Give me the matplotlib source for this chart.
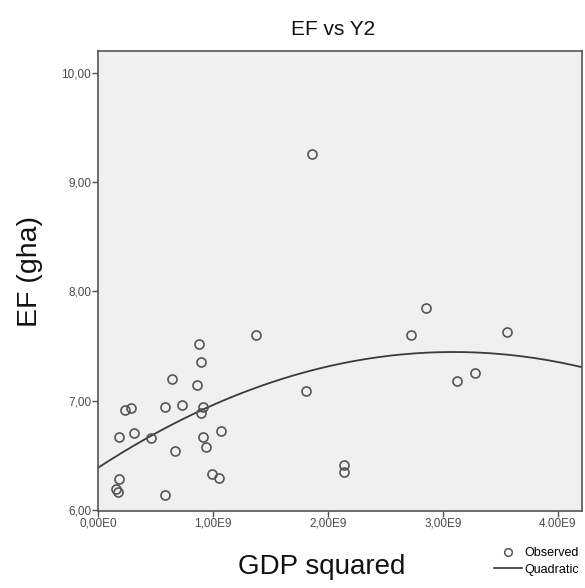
import numpy as np
import matplotlib
matplotlib.use('Agg')
import matplotlib.pyplot as plt
from matplotlib.lines import Line2D

plt.rcParams['font.family'] = ['Liberation Sans', 'DejaVu Sans']

# observed points: GDP squared (in units of 1E9) vs EF (gha)
gdp_sq = [1.86, 2.85, 2.72, 3.56, 3.28, 3.12, 1.81, 2.14, 2.14,
          1.37, 0.878, 0.898, 0.643, 0.858, 0.585, 0.730, 0.913, 0.900,
          0.235, 0.287, 0.185, 0.316, 0.464, 0.913, 1.067, 0.939, 0.667,
          0.988, 1.052, 0.185, 0.157, 0.171, 0.585]
ef_gha = [9.26, 7.85, 7.60, 7.63, 7.25, 7.18, 7.09, 6.41, 6.35,
          7.60, 7.52, 7.35, 7.20, 7.14, 6.94, 6.96, 6.94, 6.89,
          6.91, 6.93, 6.67, 6.70, 6.66, 6.67, 6.72, 6.58, 6.54,
          6.33, 6.29, 6.28, 6.19, 6.16, 6.14]

# quadratic fit coefficients (intercept, linear, squared), x in 1E9
quad_coef = [6.385, 0.686, -0.111]

xticks = [0, 1, 2, 3, 4]
xticklabels = ['0,00E0', '1,00E9', '2,00E9', '3,00E9', '4.00E9']
yticks = [6, 7, 8, 9, 10]
yticklabels = ['6,00', '7,00', '8,00', '9,00', '10,00']

fig = plt.figure(figsize=(5.85, 5.88), dpi=100)
ax = fig.add_axes([0.1675, 0.131, 0.8275, 0.7823])
ax.set_facecolor('#f0f0f0')

xs = np.linspace(0, 4.21, 200)
ys = quad_coef[0] + quad_coef[1] * xs + quad_coef[2] * xs ** 2
ax.plot(xs, ys, color='#3a3a3a', linewidth=1.3, zorder=2)
ax.plot(gdp_sq, ef_gha, linestyle='none', marker='o', markersize=6.5,
        markerfacecolor='none', markeredgecolor='#555555',
        markeredgewidth=1.2, zorder=3)

ax.set_xlim(0, 4.21)
ax.set_ylim(5.99, 10.2)
ax.set_xticks(xticks, xticklabels)
ax.set_yticks(yticks, yticklabels)
ax.tick_params(direction='out', length=4, width=1, color='#505050',
               labelsize=8.5, labelcolor='#4a4a4a', pad=1)
for s in ax.spines.values():
    s.set_color('#555555')
    s.set_linewidth(1.2)

fig.text(0.57, 0.949, 'EF vs Y2', ha='center', va='center', fontsize=15,
         color='#111111')
fig.text(0.052, 0.539, 'EF (gha)', ha='center', va='center', rotation=90,
         fontsize=20.5, color='#111111')
fig.text(0.55, 0.036, 'GDP squared', ha='center', va='center', fontsize=20,
         color='#111111')

handles = [Line2D([], [], linestyle='none', marker='o', markersize=5.5,
                  markerfacecolor='none', markeredgecolor='#555555',
                  markeredgewidth=1.1, label='Observed'),
           Line2D([], [], color='#333333', linewidth=1.2, label='Quadratic')]
fig.legend(handles=handles, loc='lower right', bbox_to_anchor=(1.0, 0.01),
           frameon=False, fontsize=9, handlelength=2.2, handletextpad=0.2,
           labelspacing=0.35, borderaxespad=0.1)

fig.savefig('out.png', dpi=100, facecolor='white')
